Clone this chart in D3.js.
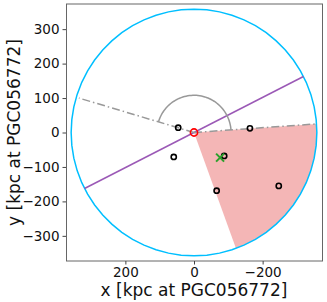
<!DOCTYPE html>
<html>
<head>
<meta charset="utf-8">
<script src="https://cdn.jsdelivr.net/npm/d3@7"></script>
<style>
  body { margin: 0; background: #fff; }
  svg { display: block; font-family: "DejaVu Sans", sans-serif; }
</style>
</head>
<body>
<svg id="chart" width="327" height="302"></svg>
<script>
// values (kpc)
const domainMax = 373;
const xTicks = [200, 0, -200];
const yTicks = [-300, -200, -100, 0, 100, 200, 300];
const circleRadius = 358;
const arcRadius = 108;
const dashAngles = [16.6, 176];      // gray dash-dot rays, degrees
const dashLengths = [350, 358];
const sectorAngles = [176, 250];     // pink wedge
const axisLineAngle = 153;           // purple line through centre
const galX = [46, -163, 59, -88, -66, -247];
const galY = [14, 12, -71, -68, -169, -155];
const centre = [0, 0];
const crossPoint = [-76, -73];

const svg = d3.select('#chart');
const margin = { top: 4, right: 5, bottom: 41, left: 66 };
const width = 327 - margin.left - margin.right;
const height = 302 - margin.top - margin.bottom;

const x = d3.scaleLinear().domain([domainMax, -domainMax]).range([0, width]);
const y = d3.scaleLinear().domain([-domainMax, domainMax]).range([height, 0]);

const g = svg.append('g')
  .attr('transform', 'translate(' + margin.left + ',' + margin.top + ')');

const rad = (deg) => deg * Math.PI / 180;
const polar = (r, deg) => [x(r * Math.cos(rad(deg))), y(r * Math.sin(rad(deg)))];
const arcPoints = (r, a0, a1) => d3.range(0, 61).map((i) => polar(r, a0 + (a1 - a0) * i / 60));
const line = d3.line();

// pink wedge
g.append('path')
  .attr('d', line([[x(0), y(0)]].concat(arcPoints(circleRadius, sectorAngles[0], sectorAngles[1]))) + 'Z')
  .attr('fill', '#f4b6b6')
  .attr('stroke', 'none');

// outer circle
g.append('path')
  .attr('d', line(arcPoints(circleRadius, 0, 360)) + 'Z')
  .attr('fill', 'none')
  .attr('stroke', '#00bfff')
  .attr('stroke-width', 1.5);

// purple line across
g.append('path')
  .attr('d', line([polar(circleRadius, axisLineAngle), polar(circleRadius, axisLineAngle + 180)]))
  .attr('stroke', '#9b59b6')
  .attr('stroke-width', 1.5)
  .attr('fill', 'none');

// gray dash-dot rays
dashAngles.forEach((a, i) => {
  g.append('path')
    .attr('d', line([[x(0), y(0)], polar(dashLengths[i], a)]))
    .attr('stroke', '#999')
    .attr('stroke-width', 1.5)
    .attr('stroke-dasharray', '8,3,1.5,3')
    .attr('fill', 'none');
});

// gray angle arc
g.append('path')
  .attr('d', line(arcPoints(arcRadius, dashAngles[0], dashAngles[1])))
  .attr('stroke', '#999')
  .attr('stroke-width', 1.5)
  .attr('fill', 'none');

// galaxies
g.selectAll('.gal')
  .data(galX.map((v, i) => [v, galY[i]]))
  .enter().append('circle')
  .attr('class', 'gal')
  .attr('cx', (d) => x(d[0]))
  .attr('cy', (d) => y(d[1]))
  .attr('r', 2.6)
  .attr('fill', 'none')
  .attr('stroke', '#000')
  .attr('stroke-width', 1.6);

// centre marker
g.append('circle')
  .attr('cx', x(centre[0]))
  .attr('cy', y(centre[1]))
  .attr('r', 3.6)
  .attr('fill', 'none')
  .attr('stroke', '#ff0000')
  .attr('stroke-width', 1.6);

// green cross
const cx = x(crossPoint[0]);
const cy = y(crossPoint[1]);
const s = 4;
g.append('path')
  .attr('d', 'M' + (cx - s) + ',' + (cy - s) + 'L' + (cx + s) + ',' + (cy + s) +
    'M' + (cx - s) + ',' + (cy + s) + 'L' + (cx + s) + ',' + (cy - s))
  .attr('stroke', '#2ca02c')
  .attr('stroke-width', 2);

// frame
g.append('rect')
  .attr('x', 0.5).attr('y', 0)
  .attr('width', width).attr('height', height)
  .attr('fill', 'none')
  .attr('stroke', '#666')
  .attr('stroke-width', 1);

const fmt = d3.format('d');
const xAxis = g.append('g')
  .attr('transform', 'translate(0,' + height + ')')
  .call(d3.axisBottom(x).tickValues(xTicks).tickFormat(fmt).tickSize(3.5).tickPadding(2.5));
const yAxis = g.append('g')
  .call(d3.axisLeft(y).tickValues(yTicks).tickFormat(fmt).tickSize(3.5).tickPadding(3));
[xAxis, yAxis].forEach((a) => {
  a.select('.domain').remove();
  a.selectAll('line').attr('stroke', '#444');
  a.selectAll('text').attr('font-size', 13.5).attr('fill', '#111')
    .attr('font-family', '"DejaVu Sans", sans-serif');
});

svg.append('text')
  .attr('x', margin.left + width / 2)
  .attr('y', 296)
  .attr('text-anchor', 'middle')
  .attr('font-size', 17)
  .attr('fill', '#111')
  .text('x [kpc at PGC056772]');

svg.append('text')
  .attr('transform', 'translate(20,' + (margin.top + height / 2) + ') rotate(-90)')
  .attr('text-anchor', 'middle')
  .attr('font-size', 17)
  .attr('fill', '#111')
  .text('y [kpc at PGC056772]');
</script>
</body>
</html>
